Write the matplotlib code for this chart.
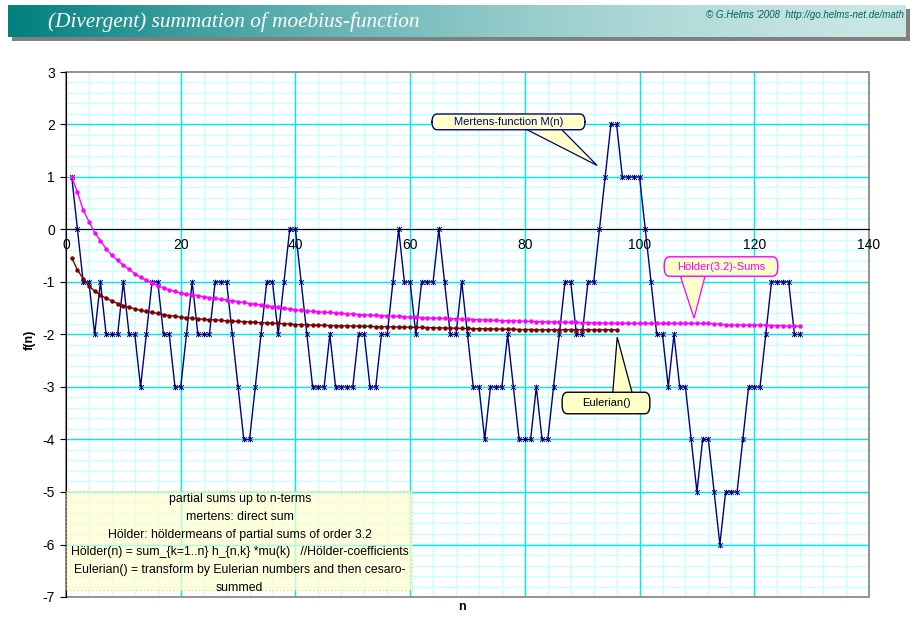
"""(Divergent) summation of moebius-function -- Mertens, Hoelder and Eulerian sums."""

import numpy as np
import matplotlib

matplotlib.use("Agg")
import matplotlib.pyplot as plt
from matplotlib.patches import FancyBboxPatch, Polygon, Rectangle
from matplotlib.path import Path
from matplotlib.ticker import MultipleLocator

plt.rcParams["font.family"] = ["Liberation Sans", "DejaVu Sans"]
plt.rcParams["axes.unicode_minus"] = False

# Mertens function M(n), n = 1..128
mertens = [
    1, 0, -1, -1, -2, -1, -2, -2, -2, -1,
    -2, -2, -3, -2, -1, -1, -2, -2, -3, -3,
    -2, -1, -2, -2, -2, -1, -1, -1, -2, -3,
    -4, -4, -3, -2, -1, -1, -2, -1, 0, 0,
    -1, -2, -3, -3, -3, -2, -3, -3, -3, -3,
    -2, -2, -3, -3, -2, -2, -1, 0, -1, -1,
    -2, -1, -1, -1, 0, -1, -2, -2, -1, -2,
    -3, -3, -4, -3, -3, -3, -2, -3, -4, -4,
    -4, -3, -4, -4, -3, -2, -1, -1, -2, -2,
    -1, -1, 0, 1, 2, 2, 1, 1, 1, 1,
    0, -1, -2, -2, -3, -2, -3, -3, -4, -5,
    -4, -4, -5, -6, -5, -5, -5, -4, -3, -3,
    -3, -2, -1, -1, -1, -1, -2, -2,
]

# Hoelder(3.2)-sums, n = 1..128
holder = [
    1.00, 0.71, 0.37, 0.15, -0.06, -0.21, -0.37, -0.49, -0.59, -0.68,
    -0.76, -0.84, -0.91, -0.97, -1.02, -1.07, -1.11, -1.15, -1.18, -1.21,
    -1.23, -1.24, -1.26, -1.28, -1.30, -1.31, -1.33, -1.34, -1.36, -1.375,
    -1.39, -1.41, -1.42, -1.44, -1.45, -1.47, -1.48, -1.50, -1.51, -1.53,
    -1.54, -1.55, -1.56, -1.57, -1.575, -1.58, -1.59, -1.60, -1.605, -1.61,
    -1.62, -1.625, -1.63, -1.635, -1.64, -1.645, -1.65, -1.655, -1.66, -1.67,
    -1.675, -1.68, -1.685, -1.69, -1.69, -1.695, -1.70, -1.70, -1.705, -1.71,
    -1.715, -1.72, -1.72, -1.725, -1.73, -1.735, -1.74, -1.74, -1.745, -1.75,
    -1.75, -1.755, -1.755, -1.76, -1.76, -1.765, -1.765, -1.77, -1.77, -1.775,
    -1.775, -1.78, -1.78, -1.78, -1.785, -1.785, -1.785, -1.79, -1.79, -1.79,
    -1.79, -1.79, -1.79, -1.79, -1.79, -1.79, -1.79, -1.79, -1.79, -1.79,
    -1.79, -1.79, -1.80, -1.80, -1.82, -1.82, -1.82, -1.82, -1.82, -1.82,
    -1.82, -1.82, -1.83, -1.83, -1.83, -1.84, -1.84, -1.84,
]

# Eulerian() transform, n = 1..96
eulerian = [
    -0.54, -0.77, -0.94, -1.08, -1.17, -1.25, -1.31, -1.36, -1.41, -1.45,
    -1.48, -1.51, -1.54, -1.56, -1.58, -1.60, -1.62, -1.64, -1.65, -1.67,
    -1.68, -1.69, -1.70, -1.71, -1.72, -1.72, -1.73, -1.74, -1.745, -1.75,
    -1.755, -1.76, -1.77, -1.775, -1.78, -1.785, -1.79, -1.795, -1.80, -1.81,
    -1.81, -1.815, -1.82, -1.82, -1.825, -1.83, -1.83, -1.835, -1.835, -1.84,
    -1.84, -1.845, -1.845, -1.85, -1.85, -1.85, -1.855, -1.855, -1.86, -1.86,
    -1.865, -1.865, -1.87, -1.87, -1.875, -1.875, -1.88, -1.88, -1.885, -1.885,
    -1.89, -1.89, -1.89, -1.895, -1.895, -1.90, -1.90, -1.90, -1.905, -1.905,
    -1.905, -1.91, -1.91, -1.91, -1.91, -1.91, -1.91, -1.91, -1.91, -1.91,
    -1.91, -1.91, -1.91, -1.91, -1.91, -1.91,
]

note_lines = [
    "partial sums up to n-terms",
    "mertens: direct sum",
    "Hölder: höldermeans of partial sums of order 3.2",
    "Hölder(n) = sum_{k=1..n} h_{n,k} *mu(k)   //Hölder-coefficients",
    "Eulerian() = transform by Eulerian numbers and then cesaro-",
    "summed",
]

W, H = 916, 641
fig = plt.figure(figsize=(W / 100, H / 100), dpi=100)


def fx(px):
    return px / W


def fy(py):
    return 1 - py / H


# ---- title banner with shadow ----
ax_sh = fig.add_axes([fx(12), fy(41), fx(898), 32 / H], zorder=0)
ax_sh.add_patch(Rectangle((0, 0), 1, 1, facecolor="#808080", edgecolor="none"))
ax_sh.set_axis_off()
ax_ban = fig.add_axes([fx(8), fy(37), fx(898), 32 / H], zorder=1)
t = np.linspace(0, 1, 400)
t = 1 - (1 - t) ** 1.6
c0 = np.array([0, 128, 128]) / 255
c1 = np.array([200, 230, 228]) / 255
grad = (c0[None, :] * (1 - t[:, None]) + c1[None, :] * t[:, None])[None, :, :]
ax_ban.imshow(grad, aspect="auto", extent=[0, 1, 0, 1])
ax_ban.set_axis_off()
ax_ban.text(40 / 898, 0.47, "(Divergent) summation of moebius-function", color="white",
            fontsize=15.3, family=["Liberation Serif", "DejaVu Serif"], style="italic",
            va="center", ha="left", transform=ax_ban.transAxes)
ax_ban.text(1 - 2 / 898, 0.7, "\u00a9 G.Helms '2008  http://go.helms-net.de/math",
            color="#006060", fontsize=7, style="italic", va="center", ha="right",
            transform=ax_ban.transAxes)

# ---- main plot area ----
ax = fig.add_axes([fx(66), fy(597), 803 / W, 525 / H])
ax.set_xlim(0, 140)
ax.set_ylim(-7, 3)
ax.xaxis.set_major_locator(MultipleLocator(20))
ax.yaxis.set_major_locator(MultipleLocator(1))

# grid drawn by hand so the tick labels stay on top of it
ax.vlines(np.arange(4, 140, 4), -7, 3, color="#c8ffff", linewidth=1, zorder=0.2)
ax.hlines(np.arange(-6.8, 3, 0.2), 0, 140, color="#c8ffff", linewidth=1, zorder=0.2)
ax.vlines(np.arange(20, 140, 20), -7, 3, color="#00e8f0", linewidth=1, zorder=0.3)
ax.hlines(np.arange(-6, 3, 1), 0, 140, color="#00e8f0", linewidth=1, zorder=0.3)

for side in ("top", "right"):
    ax.spines[side].set_visible(False)
ax.spines["bottom"].set_position(("data", 0))
ax.spines["bottom"].set_color("black")
ax.spines["left"].set_color("black")
ax.add_patch(Rectangle((0, 0), 1, 1, transform=ax.transAxes, fill=False,
                       edgecolor="#808080", linewidth=1.2, zorder=1, clip_on=False))

ax.tick_params(axis="x", which="both", length=0, labelsize=10, pad=6)
ax.tick_params(axis="y", which="major", length=4, direction="out", labelsize=10, pad=4)

# star marker (x plus vertical bar, like the spreadsheet asterisk)
star = Path([(-1, -1), (1, 1), (-1, 1), (1, -1), (0, -1.2), (0, 1.2)],
            [Path.MOVETO, Path.LINETO, Path.MOVETO, Path.LINETO, Path.MOVETO, Path.LINETO])

n_m = np.arange(1, len(mertens) + 1)
n_h = np.arange(1, len(holder) + 1)
n_e = np.arange(1, len(eulerian) + 1)

ax.plot(n_m, mertens, color="#000080", linewidth=1, marker=star, markersize=4,
        markerfacecolor="none", markeredgewidth=0.7, zorder=3)
ax.plot(n_h, holder, color="#ff00ff", linewidth=1, marker="o", markersize=3.2,
        markeredgewidth=0, zorder=4)
ax.plot(n_e, eulerian, color="#800000", linewidth=1, marker="o", markersize=3.2,
        markeredgewidth=0, zorder=4)


def callout(x0, y0, x1, y1, base, apex, text, edge, tcolor):
    wedge = Polygon([base[0], apex, base[1]], closed=True, facecolor="#ffffc8",
                    edgecolor=edge, linewidth=0.9, zorder=6)
    ax.add_patch(wedge)
    box = FancyBboxPatch((x0, y0), x1 - x0, y1 - y0,
                         boxstyle="round,pad=0,rounding_size=0.9",
                         mutation_aspect=1 / 5.5,
                         facecolor="#ffffc8", edgecolor=edge, linewidth=1, zorder=7)
    ax.add_patch(box)
    ax.text((x0 + x1) / 2, (y0 + y1) / 2, text, color=tcolor, fontsize=8,
            ha="center", va="center", zorder=8)


callout(63.8, 1.90, 90.5, 2.20, [(79.5, 1.95), (86.0, 1.95)], (92.6, 1.22),
        "Mertens-function M(n)", "#000080", "#000080")
callout(104.3, -0.89, 124.1, -0.52, [(107.0, -0.85), (111.5, -0.85)], (109.5, -1.69),
        "Hölder(3.2)-Sums", "#ff00ff", "#ff00ff")
callout(86.5, -3.51, 101.8, -3.10, [(95.3, -3.15), (98.8, -3.15)], (96.1, -2.05),
        "Eulerian()", "black", "black")

# note box
ax.add_patch(Rectangle((0, -6.87), 60.3, 1.89, facecolor="#ffffd0", alpha=0.7,
                       edgecolor="#d8d070", linestyle=":", linewidth=1, zorder=5))
for i, line in enumerate(note_lines):
    ax.text(30.3, -5.13 - i * 0.34, line, fontsize=8.8, ha="center", va="center",
            zorder=6)

fig.text(fx(30), fy(340), "f(n)", rotation=90, fontsize=9, fontweight="bold",
         ha="center", va="center")
fig.text(fx(462), fy(607), "n", fontsize=9, fontweight="bold", ha="center", va="center")

fig.savefig("out.png", dpi=100)
